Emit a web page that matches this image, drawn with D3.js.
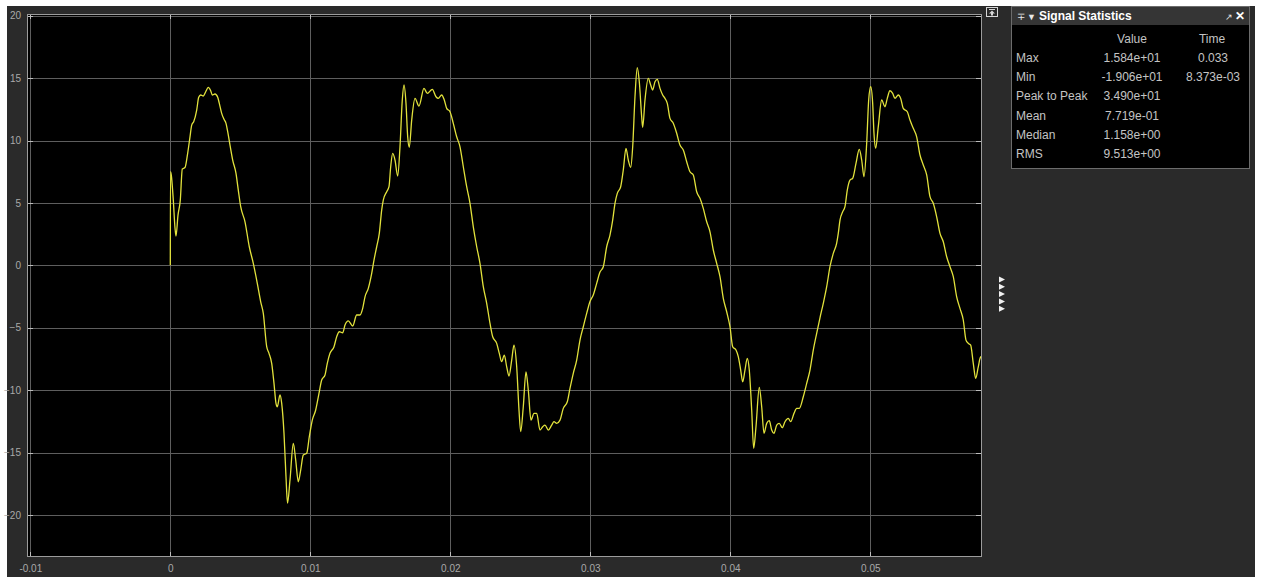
<!DOCTYPE html>
<html>
<head>
<meta charset="utf-8">
<script src="https://cdn.jsdelivr.net/npm/d3@7"></script>
<style>
  html, body { margin: 0; padding: 0; background: #ffffff; }
  svg { display: block; font-family: Arial, "Liberation Sans", sans-serif; }
</style>
</head>
<body>
<svg id="scope" width="1261" height="577"></svg>
<script>
// Sampled scope trace: time in milliseconds, amplitude in volts
const timeMs = [
  0, 0.014, 0.071, 0.214, 0.336, 0.407, 0.55, 0.714, 0.857, 1.05,
  1.243, 1.407, 1.529, 1.671, 1.886, 2.029, 2.171, 2.357, 2.529, 2.714,
  2.886, 3.0, 3.193, 3.386, 3.5, 3.671, 3.836, 3.979, 4.1, 4.264,
  4.457, 4.693, 4.857, 5.029, 5.336, 5.643, 5.929, 6.214, 6.457, 6.643,
  6.886, 7.05, 7.243, 7.407, 7.55, 7.643, 7.836, 7.957, 8.121, 8.264,
  8.373, 8.55, 8.786, 8.957, 9.143, 9.314, 9.5, 9.743, 9.929, 10.143,
  10.386, 10.621, 10.814, 11.05, 11.214, 11.407, 11.693, 11.886, 12.071, 12.314,
  12.479, 12.714, 13.029, 13.314, 13.55, 13.743, 13.907, 14.143, 14.386, 14.55,
  14.743, 14.929, 15.1, 15.214, 15.457, 15.621, 15.743, 15.886, 16.05, 16.243,
  16.407, 16.571, 16.693, 16.836, 16.957, 17.071, 17.243, 17.479, 17.764, 18.121,
  18.357, 18.714, 18.979, 19.143, 19.386, 19.571, 19.743, 19.979, 20.214, 20.457,
  20.693, 20.929, 21.171, 21.407, 21.643, 21.886, 22.121, 22.357, 22.6, 22.836,
  23.029, 23.314, 23.5, 23.671, 23.857, 24.029, 24.193, 24.386, 24.55, 24.743,
  24.907, 25.029, 25.214, 25.407, 25.571, 25.764, 25.979, 26.171, 26.407, 26.6,
  26.764, 27.0, 27.243, 27.407, 27.6, 27.836, 28.071, 28.357, 28.55, 28.786,
  29.029, 29.264, 29.5, 29.743, 29.979, 30.214, 30.457, 30.693, 30.929, 31.171,
  31.407, 31.6, 31.764, 31.929, 32.171, 32.357, 32.55, 32.714, 32.886, 33.029,
  33.193, 33.357, 33.5, 33.671, 33.743, 33.907, 34.143, 34.314, 34.457, 34.621,
  34.786, 34.979, 35.171, 35.336, 35.5, 35.693, 35.929, 36.171, 36.407, 36.643,
  36.886, 37.121, 37.357, 37.6, 37.836, 38.071, 38.314, 38.55, 38.786, 39.029,
  39.264, 39.5, 39.743, 39.979, 40.171, 40.407, 40.571, 40.743, 40.886, 41.05,
  41.214, 41.357, 41.529, 41.671, 41.836, 42.071, 42.243, 42.407, 42.6, 42.786,
  42.957, 43.121, 43.314, 43.5, 43.714, 43.907, 44.143, 44.314, 44.55, 44.743,
  44.929, 45.214, 45.457, 45.693, 45.929, 46.171, 46.407, 46.643, 46.886, 47.121,
  47.357, 47.596, 47.714, 47.836, 48.029, 48.193, 48.357, 48.55, 48.743, 48.979,
  49.214, 49.386, 49.55, 49.743, 49.886, 50.029, 50.171, 50.264, 50.386, 50.571,
  50.814, 51.05, 51.214, 51.407, 51.6, 51.764, 52.0, 52.171, 52.357, 52.643,
  52.836, 53.071, 53.314, 53.55, 53.786, 54.029, 54.264, 54.5, 54.743, 54.979,
  55.214, 55.457, 55.693, 55.929, 56.171, 56.407, 56.643, 56.836, 57.0, 57.171,
  57.357, 57.529, 57.714, 57.886, 58.029
];
const amplitude = [
  0, 7.50, 7.24, 5.23, 2.99, 2.35, 4.03, 5.23, 7.72, 7.84,
  9.00, 10.30, 11.24, 11.51, 12.44, 13.46, 13.65, 13.57, 13.91, 14.26,
  13.99, 13.65, 13.73, 13.46, 12.98, 12.18, 11.70, 11.38, 10.71, 9.64,
  8.44, 7.37, 6.03, 4.70, 3.49, 1.49, 0.16, -1.44, -2.92, -3.85,
  -6.52, -7.05, -7.85, -9.46, -11.06, -11.33, -10.39, -11.06, -13.46, -16.94,
  -19.06, -17.20, -14.26, -15.60, -17.34, -16.40, -15.20, -15.06, -13.73, -12.40,
  -11.59, -10.26, -9.19, -8.79, -7.85, -7.05, -6.52, -5.72, -5.32, -5.40,
  -4.78, -4.45, -4.86, -3.98, -3.98, -3.45, -2.52, -1.84, -0.64, 0.42,
  1.49, 2.56, 4.43, 5.23, 5.90, 6.30, 7.90, 8.97, 8.44, 7.16,
  9.50, 13.25, 14.45, 12.98, 10.30, 9.46, 11.64, 13.38, 12.76, 14.18,
  13.78, 14.10, 13.51, 13.38, 13.65, 13.25, 12.58, 12.31, 11.38, 10.30,
  9.50, 7.90, 6.30, 4.97, 3.09, 1.49, 0.16, -1.71, -3.04, -4.65,
  -5.72, -6.25, -7.05, -7.72, -7.19, -8.13, -8.87, -7.59, -6.39, -8.13,
  -11.59, -13.33, -11.33, -8.53, -9.99, -12.40, -11.86, -11.86, -13.20, -12.93,
  -12.80, -13.20, -12.80, -12.53, -12.66, -12.40, -11.46, -10.93, -9.86, -8.65,
  -7.59, -5.99, -4.92, -3.85, -2.90, -2.38, -1.44, -0.54, -0.11, 1.49,
  2.43, 3.63, 4.97, 5.77, 6.30, 7.64, 9.38, 8.44, 7.85, 9.50,
  13.51, 15.84, 14.71, 11.91, 11.06, 13.25, 14.98, 14.45, 14.05, 14.71,
  14.90, 14.18, 13.65, 13.38, 12.98, 11.78, 11.38, 10.58, 9.64, 9.24,
  8.30, 7.50, 7.24, 5.90, 5.37, 4.57, 3.49, 2.69, 1.23, 0.16,
  -0.91, -2.64, -3.72, -4.92, -6.52, -6.79, -7.32, -8.39, -9.33, -8.39,
  -7.45, -8.39, -11.59, -14.66, -12.93, -9.78, -11.33, -13.46, -12.66, -12.45,
  -13.20, -13.46, -12.80, -12.66, -13.01, -12.53, -12.26, -12.53, -11.86, -11.46,
  -11.46, -10.53, -9.46, -8.39, -6.79, -5.45, -4.20, -3.04, -1.71, -0.11,
  0.96, 1.76, 2.56, 3.63, 4.29, 4.70, 6.03, 6.83, 6.97, 8.17,
  9.29, 8.44, 7.10, 9.78, 13.25, 14.31, 12.98, 10.58, 9.38, 11.11,
  13.25, 12.71, 13.38, 13.99, 13.78, 13.38, 13.65, 13.38, 12.58, 12.31,
  11.64, 10.98, 10.30, 8.84, 8.04, 7.24, 5.50, 4.97, 3.89, 2.56,
  1.89, 0.69, -0.11, -0.91, -2.52, -3.45, -4.38, -5.99, -6.25, -6.39,
  -7.85, -9.05, -8.13, -7.32, -8.25
];

const xTicks = [-0.01, 0, 0.01, 0.02, 0.03, 0.04, 0.05];
const xTickLabels = ["-0.01", "0", "0.01", "0.02", "0.03", "0.04", "0.05"];
const yTicks = [-20, -15, -10, -5, 0, 5, 10, 15, 20];
const xDomain = [-0.010236, 0.05798];
const yDomain = [-23.37, 20.14];

const statNames = ["Max", "Min", "Peak to Peak", "Mean", "Median", "RMS"];
const statValues = ["1.584e+01", "-1.906e+01", "3.490e+01", "7.719e-01", "1.158e+00", "9.513e+00"];
const statTimes = ["0.033", "8.373e-03", "", "", "", ""];

const svg = d3.select("#scope");

// scope window background
svg.append("rect").attr("x", 7).attr("y", 6).attr("width", 1248).attr("height", 571).attr("fill", "#2a2a2a");

const plot = { left: 27, top: 14, right: 982, bottom: 557 };
const x = d3.scaleLinear().domain(xDomain).range([plot.left, plot.right]);
const y = d3.scaleLinear().domain(yDomain).range([plot.bottom, plot.top]);

svg.append("rect")
  .attr("x", plot.left).attr("y", plot.top)
  .attr("width", plot.right - plot.left).attr("height", plot.bottom - plot.top)
  .attr("fill", "#000");

// grid
const grid = svg.append("g").attr("stroke", "#5e5e5e").attr("stroke-width", 1).attr("shape-rendering", "crispEdges");
grid.selectAll("line.v").data(xTicks).join("line").attr("class", "v")
  .attr("x1", d => Math.round(x(d)) + 0.5).attr("x2", d => Math.round(x(d)) + 0.5)
  .attr("y1", plot.top).attr("y2", plot.bottom);
grid.selectAll("line.h").data(yTicks).join("line").attr("class", "h")
  .attr("y1", d => Math.round(y(d)) + 0.5).attr("y2", d => Math.round(y(d)) + 0.5)
  .attr("x1", plot.left).attr("x2", plot.right);

// axes with inward ticks on every side
const tickColor = "#bdbdbd";
const labelColor = "#a9a9a9";
const bottomAxis = svg.append("g").attr("transform", `translate(0,${plot.bottom})`)
  .call(d3.axisBottom(x).tickValues(xTicks).tickFormat((d, i) => xTickLabels[i]).tickSize(-5).tickPadding(8));
const leftAxis = svg.append("g").attr("transform", `translate(${plot.left},0)`)
  .call(d3.axisLeft(y).tickValues(yTicks).tickFormat(d3.format("d")).tickSize(-6).tickPadding(6));
const topAxis = svg.append("g").attr("transform", `translate(0,${plot.top})`)
  .call(d3.axisTop(x).tickValues(xTicks).tickFormat("").tickSize(-5));
const rightAxis = svg.append("g").attr("transform", `translate(${plot.right},0)`)
  .call(d3.axisRight(y).tickValues(yTicks).tickFormat("").tickSize(-6));
[bottomAxis, leftAxis, topAxis, rightAxis].forEach(g => {
  g.select(".domain").remove();
  g.selectAll(".tick line").attr("stroke", tickColor).attr("shape-rendering", "crispEdges");
  g.selectAll(".tick text").attr("fill", labelColor).attr("font-size", 10)
    .attr("font-family", "Arial, 'Liberation Sans', sans-serif");
});

// trace
svg.append("clipPath").attr("id", "plotClip").append("rect")
  .attr("x", plot.left).attr("y", plot.top)
  .attr("width", plot.right - plot.left).attr("height", plot.bottom - plot.top);
const line = d3.line()
  .x((d, i) => x(timeMs[i] / 1000))
  .y(d => y(d))
  .curve(d3.curveMonotoneX);
svg.append("path").datum(amplitude)
  .attr("clip-path", "url(#plotClip)")
  .attr("fill", "none").attr("stroke", "#e2e23c").attr("stroke-width", 1.3)
  .attr("stroke-linejoin", "round")
  .attr("d", line);

// plot frame
svg.append("rect")
  .attr("x", plot.left + 0.5).attr("y", plot.top + 0.5)
  .attr("width", plot.right - plot.left - 1).attr("height", plot.bottom - plot.top - 1)
  .attr("fill", "none").attr("stroke", "#9c9c9c").attr("stroke-width", 1)
  .attr("shape-rendering", "crispEdges");

// small toolbar icon at top right of the plot
const icon = svg.append("g").attr("transform", "translate(986,7)");
icon.append("rect").attr("x", 0.5).attr("y", 0.5).attr("width", 11).attr("height", 9)
  .attr("fill", "#2a2a2a").attr("stroke", "#d8d8d8");
icon.append("line").attr("x1", 3).attr("x2", 9).attr("y1", 2.5).attr("y2", 2.5).attr("stroke", "#d8d8d8");
icon.append("path").attr("d", "M6,3.5 L9,6.5 L7,6.5 L7,8.5 L5,8.5 L5,6.5 L3,6.5 Z").attr("fill", "#d8d8d8");

// collapse arrows
svg.append("g").selectAll("path").data(d3.range(5)).join("path")
  .attr("d", (d, i) => `M999,${276.5 + i * 7.3} L1005,${279.5 + i * 7.3} L999,${282.5 + i * 7.3} Z`)
  .attr("fill", "#f0f0f0");

// Signal Statistics panel
const panel = svg.append("g").attr("transform", "translate(1011,6)");
panel.append("rect").attr("x", 0.5).attr("y", 0.5).attr("width", 238).attr("height", 162)
  .attr("fill", "#000").attr("stroke", "#6c6c6c");
panel.append("rect").attr("x", 1).attr("y", 1).attr("width", 237).attr("height", 18)
  .attr("fill", "#353535");
panel.append("text").attr("x", 6).attr("y", 14).attr("fill", "#e8e8e8").attr("font-size", 10).text("\u2213");
panel.append("text").attr("x", 16).attr("y", 14).attr("fill", "#e8e8e8").attr("font-size", 9).text("\u25BC");
panel.append("text").attr("x", 28).attr("y", 14).attr("fill", "#ffffff").attr("font-size", 12)
  .attr("font-weight", "bold").text("Signal Statistics");
panel.append("text").attr("x", 214).attr("y", 14).attr("fill", "#e8e8e8").attr("font-size", 9).text("\u2197");
panel.append("text").attr("x", 224).attr("y", 14).attr("fill", "#ffffff").attr("font-size", 12)
  .attr("font-weight", "bold").text("\u2715");

const textColor = "#c4c4c4";
panel.append("text").attr("x", 121).attr("y", 37).attr("text-anchor", "middle")
  .attr("fill", textColor).attr("font-size", 12).text("Value");
panel.append("text").attr("x", 201).attr("y", 37).attr("text-anchor", "middle")
  .attr("fill", textColor).attr("font-size", 12).text("Time");
const rows = panel.selectAll("g.row").data(statNames).join("g").attr("class", "row")
  .attr("transform", (d, i) => `translate(0,${56 + i * 19.2})`);
rows.append("text").attr("x", 5).attr("fill", textColor).attr("font-size", 12).text(d => d);
rows.append("text").attr("x", 121).attr("text-anchor", "middle").attr("fill", textColor)
  .attr("font-size", 12).text((d, i) => statValues[i]);
rows.append("text").attr("x", 202).attr("text-anchor", "middle").attr("fill", textColor)
  .attr("font-size", 12).text((d, i) => statTimes[i]);
</script>
</body>
</html>
